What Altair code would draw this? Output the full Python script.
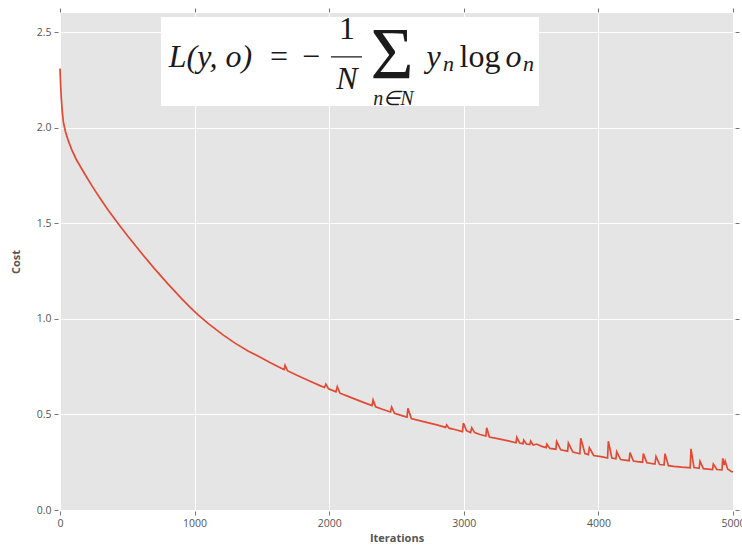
import altair as alt
import pandas as pd

# ---- line data ----
iterations = [0, 2, 5, 10, 16, 25, 40, 60, 87, 120, 186, 240, 300, 360, 430, 500, 600, 700, 800, 900, 965,
              1030, 1100, 1211, 1300, 1400, 1464, 1560, 1640, 1665, 1672, 1690, 1760, 1850, 1940, 1965, 1975,
              1995, 2006, 2050, 2060, 2080, 2150, 2240, 2318, 2326, 2345, 2400, 2455, 2464, 2485, 2540, 2578,
              2585, 2610, 2700, 2800, 2865, 2873, 2890, 2940, 2990, 2997, 3020, 3050, 3059, 3080, 3120, 3164,
              3170, 3190, 3260, 3330, 3388, 3394, 3415, 3440, 3445, 3465, 3490, 3497, 3515, 3520, 3540, 3580,
              3612, 3617, 3640, 3684, 3690, 3720, 3771, 3777, 3810, 3862, 3869, 3900, 3925, 3933, 3965, 4030,
              4068, 4074, 4100, 4130, 4136, 4165, 4228, 4235, 4260, 4290, 4328, 4334, 4360, 4420, 4428, 4455,
              4488, 4495, 4520, 4560, 4620, 4668, 4682, 4688, 4710, 4748, 4755, 4780, 4848, 4854, 4880, 4918,
              4924, 4935, 4942, 4960, 4990, 5000]
cost = [2.31, 2.27, 2.22, 2.15, 2.09, 2.03, 1.98, 1.935, 1.885, 1.835, 1.755, 1.693, 1.628, 1.567, 1.50,
        1.436, 1.348, 1.264, 1.184, 1.108, 1.061, 1.018, 0.976, 0.916, 0.873, 0.831, 0.808, 0.771, 0.743,
        0.735, 0.757, 0.729, 0.705, 0.676, 0.648, 0.641, 0.658, 0.634, 0.631, 0.618, 0.645, 0.611, 0.592,
        0.567, 0.546, 0.576, 0.540, 0.526, 0.513, 0.538, 0.506, 0.494, 0.486, 0.532, 0.478, 0.462, 0.445,
        0.432, 0.445, 0.428, 0.42, 0.41, 0.455, 0.415, 0.405, 0.43, 0.405, 0.395, 0.387, 0.43, 0.382, 0.372,
        0.362, 0.352, 0.38, 0.35, 0.347, 0.365, 0.345, 0.342, 0.36, 0.34, 0.34, 0.345, 0.333, 0.326, 0.345,
        0.322, 0.318, 0.358, 0.315, 0.308, 0.35, 0.303, 0.294, 0.375, 0.295, 0.29, 0.325, 0.285, 0.278, 0.272,
        0.36, 0.272, 0.268, 0.305, 0.264, 0.258, 0.30, 0.256, 0.253, 0.25, 0.295, 0.247, 0.24, 0.28, 0.238,
        0.236, 0.295, 0.232, 0.228, 0.224, 0.222, 0.221, 0.32, 0.222, 0.218, 0.255, 0.216, 0.212, 0.24, 0.212,
        0.21, 0.27, 0.235, 0.255, 0.215, 0.20, 0.20]

x_ticks = [0, 1000, 2000, 3000, 4000, 5000]
y_ticks = [0.0, 0.5, 1.0, 1.5, 2.0, 2.5]

# ---- formula annotation (in data coordinates) ----
ann_text = ["L(y, o)", "=", "\u2212", "1", "N", "\u03A3", "n\u2208N", "y", "n", "log", "o", "n"]
ann_x = [1118, 1627, 1865, 2132, 2132, 2466, 2478, 2775, 2886, 3120, 3369, 3480]
ann_y = [2.3175, 2.3175, 2.3175, 2.464, 2.2024, 2.2547, 2.118, 2.3175, 2.2966, 2.3175, 2.3175, 2.2966]
ann_size = [32, 32, 32, 32, 32, 74, 20, 32, 22, 32, 32, 22]
ann_italic = [True, False, False, False, True, False, True, True, True, False, True, True]

box_x = [750, 3559]
box_y = [2.579, 2.1135]
bar_x = [2013, 2244]
bar_y = 2.370

line_df = pd.DataFrame({"iter": iterations, "cost": cost})
ann_df = pd.DataFrame({"x": ann_x, "y": ann_y, "text": ann_text, "size": ann_size, "italic": ann_italic})
box_df = pd.DataFrame({"x0": [box_x[0]], "x1": [box_x[1]], "y0": [box_y[0]], "y1": [box_y[1]]})
bar_df = pd.DataFrame({"x0": [bar_x[0]], "x1": [bar_x[1]], "y": [bar_y]})

xscale = alt.Scale(domain=[0, 5000], nice=False)
yscale = alt.Scale(domain=[0, 2.6], nice=False)

FONT = "Open Sans"
GREY = "#555555"

line = alt.Chart(line_df).mark_line(color="#E24A33", strokeWidth=1.7).encode(
    x=alt.X("iter:Q", scale=xscale, axis=alt.Axis(
        values=x_ticks, format="d", title="Iterations", orient="bottom",
        grid=True, gridColor="white", gridWidth=1, domain=False,
        tickColor="#777777", tickSize=4, offset=1, labelFlush=False,
        labelColor=GREY, labelFont=FONT, labelFontSize=10.5, labelPadding=3,
        titleFont=FONT, titleFontSize=11, titleFontWeight="bold", titleColor=GREY, titlePadding=4)),
    y=alt.Y("cost:Q", scale=yscale, axis=alt.Axis(
        values=y_ticks, format=".1f", title="Cost", orient="left",
        grid=True, gridColor="white", gridWidth=1, domain=False,
        tickColor="#777777", tickSize=4, offset=2, labelFlush=False,
        labelColor=GREY, labelFont=FONT, labelFontSize=10.5, labelPadding=3,
        titleFont=FONT, titleFontSize=11, titleFontWeight="bold", titleColor=GREY, titlePadding=15)),
)

box = alt.Chart(box_df).mark_rect(color="white").encode(
    x=alt.X("x0:Q", scale=xscale, axis=alt.Axis(
        values=x_ticks, orient="top", labels=False, title=None, grid=False, domain=False,
        tickColor="#777777", tickSize=4, offset=1)),
    x2="x1:Q",
    y=alt.Y("y0:Q", scale=yscale, axis=alt.Axis(
        values=y_ticks, orient="right", labels=False, title=None, grid=False, domain=False,
        tickColor="#777777", tickSize=4, offset=2)),
    y2="y1:Q",
)

bar = alt.Chart(bar_df).mark_rule(color="#1a1a1a", strokeWidth=1.3).encode(
    x=alt.X("x0:Q", scale=xscale, axis=None),
    x2="x1:Q",
    y=alt.Y("y:Q", scale=yscale, axis=None),
)

def text_layer(italic):
    return alt.Chart(ann_df).transform_filter(
        alt.datum.italic == italic
    ).mark_text(
        font="Liberation Serif", fontStyle="italic" if italic else "normal",
        align="center", baseline="alphabetic", color="#1a1a1a"
    ).encode(
        x=alt.X("x:Q", scale=xscale, axis=None),
        y=alt.Y("y:Q", scale=yscale, axis=None),
        text="text:N",
        size=alt.Size("size:Q", scale=None, legend=None),
    )

chart = alt.layer(line, box, bar, text_layer(True), text_layer(False)).resolve_axis(
    x="independent", y="independent"
).properties(
    width=673, height=497,
    padding={"left": 60, "top": 13, "right": 9, "bottom": 37},
    autosize=alt.AutoSizeParams(type="none"),
    background="white",
).configure_view(fill="#E5E5E5", stroke=None)

chart.save("out.html", embed_options={"renderer": "svg", "actions": False})
